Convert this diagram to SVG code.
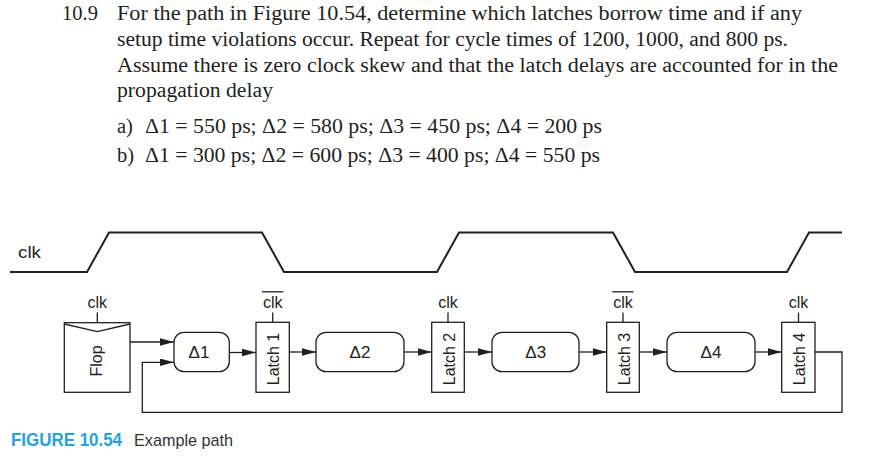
<svg xmlns="http://www.w3.org/2000/svg" width="879" height="456" viewBox="0 0 879 456">
<defs>
<style>
.ser{font-family:"Liberation Serif","Times New Roman",serif;font-size:20.5px;fill:#231f20}
.lab{font-family:"Liberation Sans",Arial,sans-serif;font-size:16px;fill:#231f20}
.del{font-family:"Liberation Sans",Arial,sans-serif;font-size:17px;fill:#231f20}
.box{fill:#fff;stroke:#231f20;stroke-width:1.3}
.wire{fill:none;stroke:#231f20;stroke-width:1.3}
.tick{stroke:#231f20;stroke-width:1.3}
</style>
<marker id="ah" markerUnits="userSpaceOnUse" markerWidth="15" markerHeight="8" refX="14" refY="3.75" orient="auto">
<path d="M0,0 L14,3.75 L0,7.5 z" fill="#231f20"/>
</marker>
</defs>
<rect width="879" height="456" fill="#fff"/>

<g id="problem">
<text class="ser" x="62" y="20">10.9</text>
<text class="ser" x="117" y="20" textLength="685" lengthAdjust="spacingAndGlyphs">For the path in Figure 10.54, determine which latches borrow time and if any</text>
<text class="ser" x="117" y="46" textLength="671" lengthAdjust="spacingAndGlyphs">setup time violations occur. Repeat for cycle times of 1200, 1000, and 800 ps.</text>
<text class="ser" x="117" y="71.5" textLength="721" lengthAdjust="spacingAndGlyphs">Assume there is zero clock skew and that the latch delays are accounted for in the</text>
<text class="ser" x="117" y="97" textLength="156" lengthAdjust="spacingAndGlyphs">propagation delay</text>
<text class="ser" x="117" y="132.5">a)</text>
<text class="ser" x="145" y="132.5" textLength="457" lengthAdjust="spacingAndGlyphs">Δ1 = 550 ps; Δ2 = 580 ps; Δ3 = 450 ps; Δ4 = 200 ps</text>
<text class="ser" x="117" y="162">b)</text>
<text class="ser" x="145" y="162" textLength="455" lengthAdjust="spacingAndGlyphs">Δ1 = 300 ps; Δ2 = 600 ps; Δ3 = 400 ps; Δ4 = 550 ps</text>
</g>

<g id="clock">
<text class="lab" x="18" y="258" font-size="17" textLength="23" lengthAdjust="spacingAndGlyphs">clk</text>
<path d="M10,272 H87 L109,232.5 H262 L284,272 H437 L459,232.5 H613 L635,272 H787 L809,232.5 H842" fill="none" stroke="#231f20" stroke-width="2"/>
</g>

<g id="flop">
<rect class="box" x="64.3" y="322.7" width="65.7" height="69.6"/>
<path class="wire" d="M64.3,324 L97.3,331.7 L130,324"/>
<line class="tick" x1="97.3" y1="312.5" x2="97.3" y2="322.7"/>
<text class="lab" x="97.3" y="307.5" text-anchor="middle">clk</text>
<text class="lab" transform="translate(101.8,361) rotate(-90)" text-anchor="middle">Flop</text>
</g>

<g id="d1">
<rect class="box" x="174" y="332.3" width="55.3" height="39.4" rx="10"/>
<text class="del" x="199" y="358.3" text-anchor="middle">Δ1</text>
</g>

<g id="latch1">
<rect class="box" x="256" y="322.3" width="33.3" height="70"/>
<line class="tick" x1="272.7" y1="312.5" x2="272.7" y2="322.3"/>
<text class="lab" x="272.7" y="307.5" text-anchor="middle">clk</text>
<line class="tick" x1="262" y1="291.8" x2="283.3" y2="291.8"/>
<text class="lab" transform="translate(279,359) rotate(-90)" text-anchor="middle">Latch 1</text>
</g>

<g id="d2">
<rect class="box" x="316" y="332.3" width="88" height="39.4" rx="10"/>
<text class="del" x="360" y="358.3" text-anchor="middle">Δ2</text>
</g>

<g id="latch2">
<rect class="box" x="431.7" y="322.3" width="32.6" height="70"/>
<line class="tick" x1="448" y1="312.5" x2="448" y2="322.3"/>
<text class="lab" x="448" y="307.5" text-anchor="middle">clk</text>
<text class="lab" transform="translate(454.5,359) rotate(-90)" text-anchor="middle">Latch 2</text>
</g>

<g id="d3">
<rect class="box" x="492" y="332.3" width="87" height="39.4" rx="10"/>
<text class="del" x="535.7" y="358.3" text-anchor="middle">Δ3</text>
</g>

<g id="latch3">
<rect class="box" x="606.7" y="322.3" width="32.6" height="70"/>
<line class="tick" x1="623" y1="312.5" x2="623" y2="322.3"/>
<text class="lab" x="623" y="307.5" text-anchor="middle">clk</text>
<line class="tick" x1="612.3" y1="291.8" x2="633.6" y2="291.8"/>
<text class="lab" transform="translate(629.5,359) rotate(-90)" text-anchor="middle">Latch 3</text>
</g>

<g id="d4">
<rect class="box" x="667" y="332.3" width="88" height="39.4" rx="10"/>
<text class="del" x="711" y="358.3" text-anchor="middle">Δ4</text>
</g>

<g id="latch4">
<rect class="box" x="781.7" y="322.3" width="33.3" height="70"/>
<line class="tick" x1="798.5" y1="312.5" x2="798.5" y2="322.3"/>
<text class="lab" x="798.5" y="307.5" text-anchor="middle">clk</text>
<text class="lab" transform="translate(805,359) rotate(-90)" text-anchor="middle">Latch 4</text>
</g>

<g id="connectors">
<path class="wire" d="M130,342 H174" marker-end="url(#ah)"/>
<path class="wire" d="M815,352 H842 V412.3 H142.3 V362.3 H174" marker-end="url(#ah)"/>
<path class="wire" d="M229.3,352.5 H256" marker-end="url(#ah)"/>
<path class="wire" d="M289.3,352 H316" marker-end="url(#ah)"/>
<path class="wire" d="M404,352 H431.7" marker-end="url(#ah)"/>
<path class="wire" d="M464.3,352 H492" marker-end="url(#ah)"/>
<path class="wire" d="M579,352 H606.7" marker-end="url(#ah)"/>
<path class="wire" d="M639.3,352 H667" marker-end="url(#ah)"/>
<path class="wire" d="M755,352 H781.7" marker-end="url(#ah)"/>
</g>

<g id="caption">
<text x="11" y="446" font-family="'Liberation Sans',Arial,sans-serif" font-weight="bold" font-size="18.5" fill="#1fa3e3" textLength="111" lengthAdjust="spacingAndGlyphs">FIGURE 10.54</text>
<text x="134" y="446" font-family="'Liberation Sans',Arial,sans-serif" font-size="17" fill="#333" textLength="99" lengthAdjust="spacingAndGlyphs">Example path</text>
</g>
</svg>
